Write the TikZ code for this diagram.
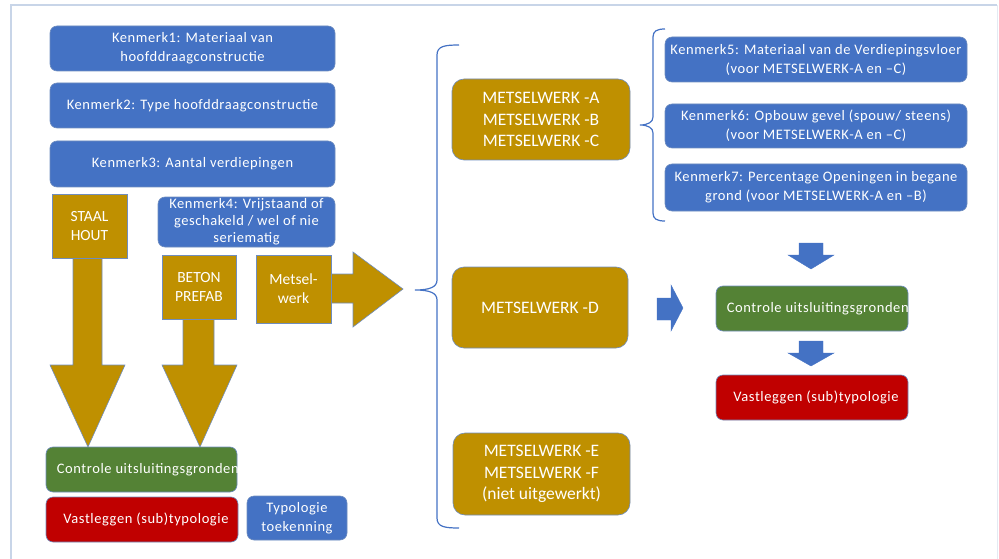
\documentclass[tikz,border=0pt]{standalone}
\usepackage{fontspec}
\setmainfont{Carlito}[LetterSpace=4.0]
\newfontfamily\plainfont{Carlito}
\usetikzlibrary{calc}
\definecolor{kblue}{HTML}{4472C4}
\definecolor{kgold}{HTML}{BF9000}
\definecolor{kgreen}{HTML}{548235}
\definecolor{kred}{HTML}{C00000}
\definecolor{kedge}{HTML}{6F8DBF}
\definecolor{kframe}{HTML}{C8D5E8}
\begin{document}
\begin{tikzpicture}[x=1pt,y=-1pt,
  box/.style={draw=kedge, line width=0.6pt, rounded corners=7pt, text=white, align=center, inner sep=0pt, font=\fontsize{14.5}{19}\selectfont},
  bluebox/.style={box, fill=kblue},
  greenbox/.style={box, fill=kgreen},
  redbox/.style={box, fill=kred},
  goldbox/.style={box, fill=kgold, rounded corners=12pt, font=\plainfont\fontsize{17.5}{21.5}\selectfont},
  goldsq/.style={draw=kedge, line width=0.6pt, fill=kgold, text=white, align=center, inner sep=0pt, font=\plainfont\fontsize{15.5}{19}\selectfont},
  goldarrow/.style={draw=kedge, line width=0.6pt, fill=kgold},
  bluearrow/.style={fill=kblue, draw=kblue, line width=0.4pt},
  bracket/.style={draw=kblue, line width=1.2pt},
  frameline/.style={draw=kframe, line width=1.6pt},
  cliptext/.style={anchor=west, text=white, inner sep=0pt, font=\fontsize{14.5}{19}\selectfont}
]
\useasboundingbox (0,0) rectangle (999,559);
% frame
\draw[frameline] (11,560) -- (11,5) -- (997,5);
\draw[draw=kframe!50, line width=1pt] (997,5) -- (997,560);

% gold block arrows (drawn first, boxes cover their tails)
\draw[goldarrow] (73,250) -- (102,250) -- (102,365) -- (125,365) -- (88,447) -- (50,365) -- (73,365) -- cycle;
\draw[goldarrow] (183,300) -- (214,300) -- (214,365) -- (237,365) -- (200,447) -- (162,365) -- (183,365) -- cycle;
\draw[goldarrow] (320,274) -- (353,274) -- (353,252) -- (403,289) -- (353,327) -- (353,303) -- (320,303) -- cycle;

% left column
\node[bluebox, minimum width=285pt, minimum height=45pt] (k1) at (192.5,48.5) {Kenmerk1: Materiaal van\\hoofddraagconstructie};
\node[bluebox, minimum width=285pt, minimum height=45pt] (k2) at (192.5,105.5) {Kenmerk2: Type hoofddraagconstructie};
\node[bluebox, minimum width=285pt, minimum height=46pt] (k3) at (192.5,164) {Kenmerk3: Aantal verdiepingen};
\node[goldsq, minimum width=75pt, minimum height=64pt] (staal) at (89.5,226) {STAAL\\HOUT};
\node[bluebox, minimum width=177pt, minimum height=50pt, font=\fontsize{14.5}{17}\selectfont] (k4) at (246.5,222) {Kenmerk4: Vrijstaand of\\geschakeld / wel of nie\\seriematig};
\node[goldsq, minimum width=74pt, minimum height=64pt] (beton) at (199,287) {BETON\\PREFAB};
\node[goldsq, minimum width=75pt, minimum height=68pt] (metsel) at (293.5,289) {Metsel-\\werk};
\node[greenbox, minimum width=191pt, minimum height=45pt] (ctrlL) at (141.5,469.5) {};
\begin{scope}
  \clip[rounded corners=7pt] (ctrlL.north west) rectangle (ctrlL.south east);
  \node[cliptext] (ctrlLt) at ($(ctrlL.west)+(11,0)$) {Controle uitsluitingsgronden};
\end{scope}
\node[redbox, minimum width=192pt, minimum height=45pt] (vastL) at (142,519.5) {\hspace{8pt}Vastleggen (sub)typologie};
\node[bluebox, minimum width=100pt, minimum height=44pt] (typ) at (297,518) {Typologie\\toekenning};

% middle column
\node[goldbox, minimum width=178pt, minimum height=81pt] (abc) at (541,119.5) {METSELWERK -A\\METSELWERK -B\\METSELWERK -C};
\node[goldbox, minimum width=176pt, minimum height=81pt] (d) at (540,307.5) {METSELWERK -D};
\node[goldbox, minimum width=177pt, minimum height=82pt] (ef) at (541.5,474) {METSELWERK -E\\METSELWERK -F\\(niet uitgewerkt)};

% big bracket
\coordinate (bTop) at (459,45);
\coordinate (bTip) at (415,290);
\coordinate (bBot) at (459,528);
\draw[bracket] (bTop) .. controls (445,45) and (437,46) .. (437,55) -- (437,280)
  .. controls (437,287) and (430,290) .. (bTip)
  .. controls (430,290) and (437,293) .. (437,300) -- (437,518)
  .. controls (437,527) and (445,528) .. (bBot);

% small bracket
\coordinate (sTop) at (665,29);
\coordinate (sTip) at (640,125);
\coordinate (sBot) at (665,221);
\draw[bracket] (sTop) .. controls (657,29) and (653,31) .. (653,37) -- (653,117)
  .. controls (653,122) and (648,125) .. (sTip)
  .. controls (648,125) and (653,128) .. (653,133) -- (653,213)
  .. controls (653,219) and (657,221) .. (sBot);

% right column
\node[bluebox, minimum width=302pt, minimum height=45pt] (k5) at (816,59.5) {Kenmerk5: Materiaal van de Verdiepingsvloer\\(voor METSELWERK-A en –C)};
\node[bluebox, minimum width=302pt, minimum height=44pt] (k6) at (816,126) {Kenmerk6: Opbouw gevel (spouw/ steens)\\(voor METSELWERK-A en –C)};
\node[bluebox, minimum width=302pt, minimum height=47pt] (k7) at (816,187.5) {Kenmerk7: Percentage Openingen in begane\\grond (voor METSELWERK-A en –B)};
\node[greenbox, minimum width=192pt, minimum height=45pt] (ctrlR) at (812,308.5) {};
\begin{scope}
  \clip[rounded corners=7pt] (ctrlR.north west) rectangle (ctrlR.south east);
  \node[cliptext] (ctrlRt) at ($(ctrlR.west)+(11,0)$) {Controle uitsluitingsgronden};
\end{scope}
\node[redbox, minimum width=192pt, minimum height=45pt] (vastR) at (812,397.5) {\hspace{8pt}Vastleggen (sub)typologie};

% blue block arrows
\draw[bluearrow] (657,298) -- (671,298) -- (671,285) -- (683,308) -- (671,331) -- (671,320) -- (657,320) -- cycle;
\draw[bluearrow] (799,243) -- (823,243) -- (823,255) -- (834,255) -- (811,269) -- (788,255) -- (799,255) -- cycle;
\draw[bluearrow] (799,341) -- (823,341) -- (823,353) -- (834,353) -- (811,366) -- (788,353) -- (799,353) -- cycle;
\end{tikzpicture}
\end{document}
